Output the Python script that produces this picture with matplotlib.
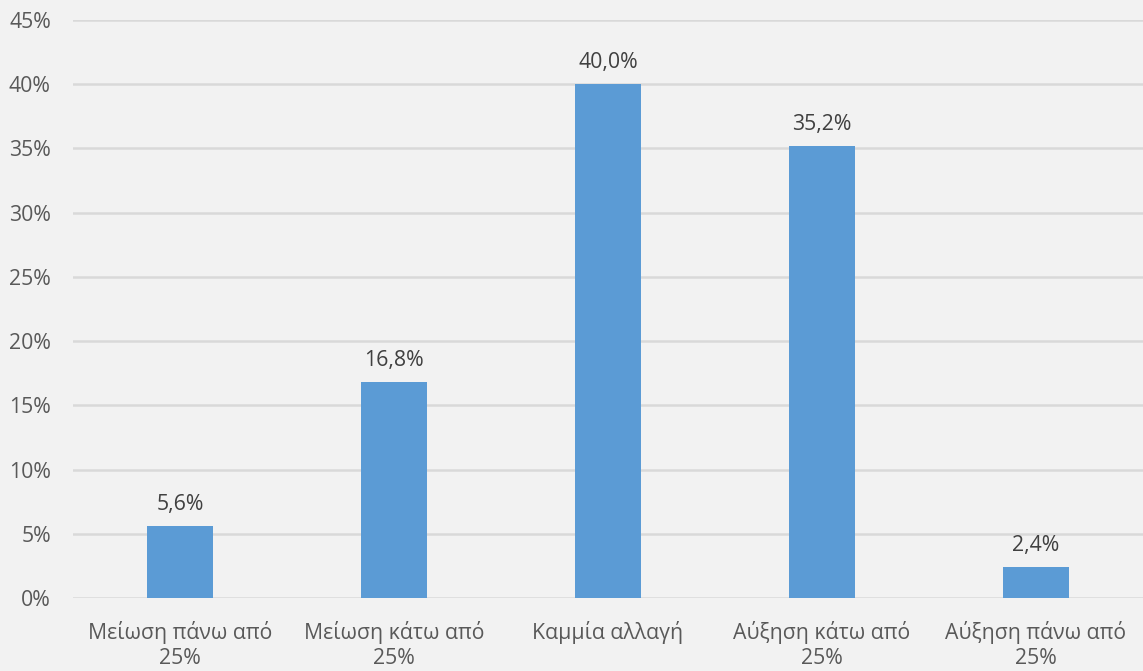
import matplotlib
matplotlib.use("Agg")
import matplotlib.pyplot as plt
from matplotlib.ticker import FuncFormatter

categories = [
    "Μείωση πάνω από\n25%",
    "Μείωση κάτω από\n25%",
    "Καμμία αλλαγή",
    "Αύξηση κάτω από\n25%",
    "Αύξηση πάνω από\n25%",
]
values = [5.6, 16.8, 40.0, 35.2, 2.4]
y_ticks = [0, 5, 10, 15, 20, 25, 30, 35, 40, 45]

plt.rcParams["font.family"] = ["Open Sans", "DejaVu Sans"]

bg = "#F2F2F2"
fig = plt.figure(figsize=(11.43, 6.71), dpi=100, facecolor=bg)
ax = fig.add_axes([0.0639, 0.1088, 0.9361, 0.8614], facecolor=bg)

x = range(len(categories))
ax.bar(x, values, width=0.31, color="#5B9BD5", zorder=3)

for xi, v in zip(x, values):
    label = f"{v:.1f}%".replace(".", ",")
    ax.annotate(label, (xi, v), xytext=(0, 8), textcoords="offset points",
                ha="center", va="bottom", fontsize=15.3, color="#404040")

ax.set_xlim(-0.5, len(categories) - 0.5)
ax.set_ylim(0, 45)
ax.set_yticks(y_ticks)
ax.yaxis.set_major_formatter(FuncFormatter(lambda v, p: f"{v:.0f}%"))
ax.set_xticks(list(x))
ax.set_xticklabels(categories, linespacing=1.25)

ax.grid(axis="y", color="#D9D9D9", linewidth=1.8, zorder=0)
for s in ax.spines.values():
    s.set_visible(False)
ax.tick_params(axis="both", length=0, labelsize=15.3, colors="#595959")
ax.tick_params(axis="x", pad=16.5)
ax.tick_params(axis="y", pad=16)

fig.savefig("out.png", dpi=100, facecolor=bg)
